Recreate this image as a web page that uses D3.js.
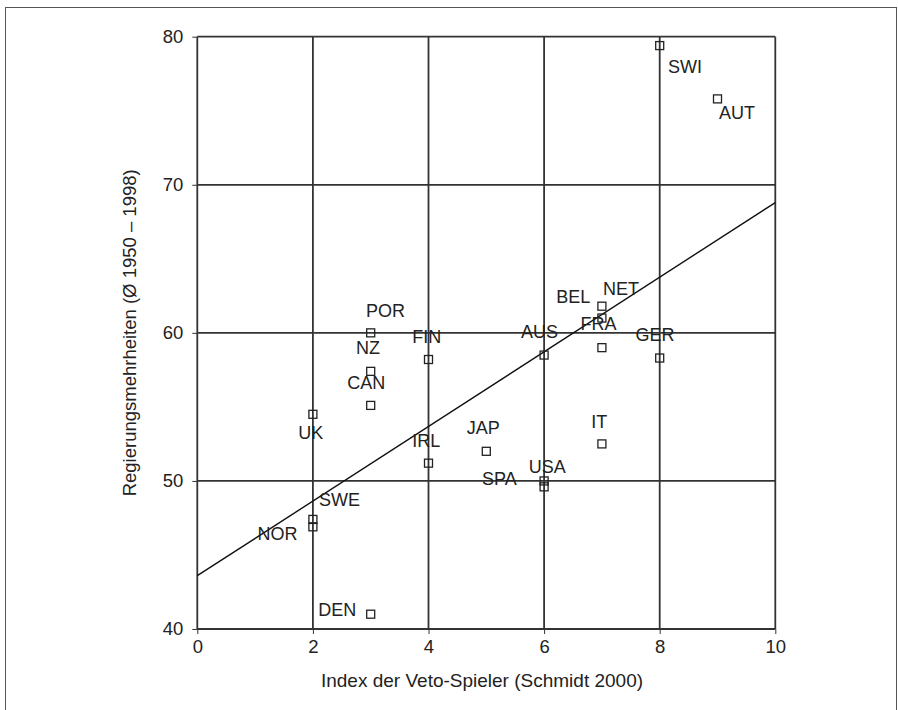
<!DOCTYPE html>
<html>
<head>
<meta charset="utf-8">
<script src="https://cdn.jsdelivr.net/npm/d3@7"></script>
<style>
  html, body { margin: 0; padding: 0; background: #fff; }
  svg { display: block; }
  text { font-family: "Liberation Sans", Arial, Helvetica, sans-serif; fill: #222; }
</style>
</head>
<body>
<svg id="chart" width="898" height="710"></svg>
<script>
// ---- data ----
const countries = ["SWI","AUT","POR","NZ","CAN","FIN","UK","AUS","BEL","NET","FRA","GER","IT","JAP","USA","SPA","IRL","SWE","NOR","DEN"];
const vetoIndex = [8, 9, 3, 3, 3, 4, 2, 6, 7, 7, 7, 8, 7, 5, 6, 6, 4, 2, 2, 3];
const majorities = [79.4, 75.8, 60.0, 57.4, 55.1, 58.2, 54.5, 58.5, 61.0, 61.8, 59.0, 58.3, 52.5, 52.0, 50.0, 49.6, 51.2, 47.4, 46.9, 41.0];
const xTicks = [0, 2, 4, 6, 8, 10];
const yTicks = [40, 50, 60, 70, 80];
const fitX = [0, 10];
const fitY = [43.6, 68.8];
const xTitle = "Index der Veto-Spieler (Schmidt 2000)";
const yTitle = "Regierungsmehrheiten (Ø 1950 – 1998)";

// ---- layout ----
const svg = d3.select("#chart");
const mLeft = 197.3, mRight = 775.3, mTop = 36.7, mBottom = 629;
const x = d3.scaleLinear().domain([0, 10]).range([mLeft, mRight]);
const y = d3.scaleLinear().domain([40, 80]).range([mBottom, mTop]);
const gridColor = "#333";

// label placement (pixel offsets from each marker: left edge, baseline)
const labelOffset = {
  SWI: [8.3, 27.3], AUT: [1.5, 20], POR: [-4.7, -16], NZ: [-14.7, -17], CAN: [-23.4, -16.7],
  FIN: [-16.3, -16.7], UK: [-14.7, 25], AUS: [-23, -17], BEL: [-45.6, -15.4], NET: [1, -11],
  FRA: [-21.3, -17.7], GER: [-24.3, -16.7], IT: [-10.6, -16], JAP: [-19.6, -17], USA: [-15.4, -8.4],
  SPA: [-62, -1.7], IRL: [-16.3, -16.6], SWE: [6, -13.3], NOR: [-55.3, 13.4], DEN: [-52.4, 2]
};

// outer frame
svg.append("rect").attr("x", 5.5).attr("y", 7.5).attr("width", 891).attr("height", 720)
  .attr("fill", "none").attr("stroke", "#555").attr("stroke-width", 1);

// grid lines
svg.append("g").selectAll("line").data(xTicks).join("line")
  .attr("x1", d => x(d)).attr("x2", d => x(d)).attr("y1", mTop).attr("y2", mBottom)
  .attr("stroke", gridColor).attr("stroke-width", 1.8);
svg.append("g").selectAll("line").data(yTicks).join("line")
  .attr("x1", mLeft).attr("x2", mRight).attr("y1", d => y(d)).attr("y2", d => y(d))
  .attr("stroke", gridColor).attr("stroke-width", 1.8);

// axes (ticks + labels)
const xAxis = d3.axisBottom(x).tickValues(xTicks).tickSize(5).tickPadding(6).tickFormat(d3.format("d"));
const gx = svg.append("g").attr("transform", `translate(0,${mBottom})`).call(xAxis);
gx.select(".domain").remove();
gx.selectAll(".tick line").attr("stroke", gridColor).attr("stroke-width", 1);
gx.selectAll(".tick text").attr("font-size", 18.5).attr("font-family", "Liberation Sans, Arial, sans-serif").attr("fill", "#222");

const yAxis = d3.axisLeft(y).tickValues(yTicks).tickSize(5).tickPadding(9).tickFormat(d3.format("d"));
const gy = svg.append("g").attr("transform", `translate(${mLeft},0)`).call(yAxis);
gy.select(".domain").remove();
gy.selectAll(".tick line").attr("stroke", gridColor).attr("stroke-width", 1);
gy.selectAll(".tick text").attr("font-size", 18.5).attr("font-family", "Liberation Sans, Arial, sans-serif").attr("fill", "#222");

// axis titles
svg.append("text").attr("x", 482).attr("y", 687)
  .attr("text-anchor", "middle").attr("font-size", 19).text(xTitle);
svg.append("text").attr("transform", `translate(136,${(mTop + mBottom) / 2}) rotate(-90)`)
  .attr("text-anchor", "middle").attr("font-size", 18.5).text(yTitle);

// regression line
svg.append("line")
  .attr("x1", x(fitX[0])).attr("y1", y(fitY[0])).attr("x2", x(fitX[1])).attr("y2", y(fitY[1]))
  .attr("stroke", "#111").attr("stroke-width", 1.4);

// points
const pts = countries.map((c, i) => ({ c, vx: vetoIndex[i], vy: majorities[i] }));
const s = 8;
svg.append("g").selectAll("rect").data(pts).join("rect")
  .attr("x", d => x(d.vx) - s / 2).attr("y", d => y(d.vy) - s / 2)
  .attr("width", s).attr("height", s)
  .attr("fill", "none").attr("stroke", "#222").attr("stroke-width", 1.3);

// point labels
svg.append("g").selectAll("text").data(pts).join("text")
  .attr("x", d => x(d.vx) + labelOffset[d.c][0])
  .attr("y", d => y(d.vy) + labelOffset[d.c][1])
  .attr("font-size", 18)
  .text(d => d.c);
</script>
</body>
</html>
